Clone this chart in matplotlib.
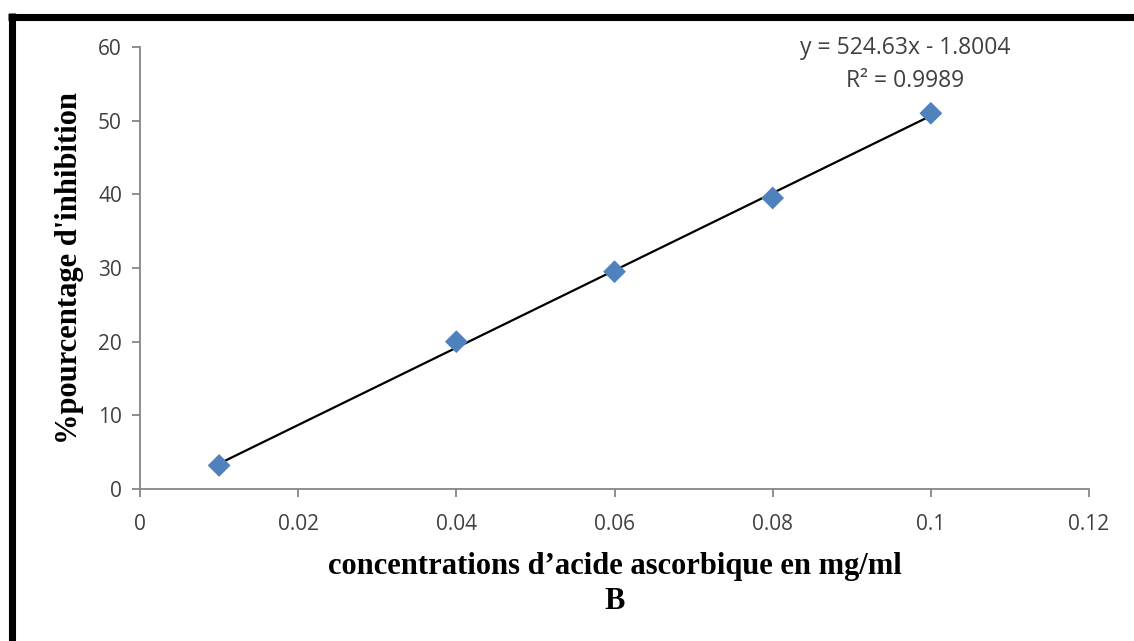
import numpy as np
import matplotlib.pyplot as plt
from matplotlib.lines import Line2D

# concentrations (mg/ml) and % inhibition
conc = [0.01, 0.04, 0.06, 0.08, 0.1]
inhibition = [3.2, 20.0, 29.5, 39.5, 51.0]

slope = 524.63
intercept = -1.8004
r2 = 0.9989

xticks = [0, 0.02, 0.04, 0.06, 0.08, 0.1, 0.12]
xtick_labels = ['0', '0.02', '0.04', '0.06', '0.08', '0.1', '0.12']
yticks = [0, 10, 20, 30, 40, 50, 60]

fig = plt.figure(figsize=(11.34, 6.41), dpi=100)
ax = fig.add_axes([0.1235, 0.2371, 0.8368, 0.6896])

# trendline
xfit = np.array([conc[0], conc[-1]])
ax.plot(xfit, slope * xfit + intercept, color='black', lw=1.6, zorder=2)
ax.scatter(conc, inhibition, marker='D', s=135, color='#4F81BD', zorder=3,
           edgecolors='none')

ax.set_xlim(0, 0.12)
ax.set_ylim(0, 60)
ax.set_xticks(xticks)
ax.set_xticklabels(xtick_labels)
ax.set_yticks(yticks)

for s in ['top', 'right']:
    ax.spines[s].set_visible(False)
for s in ['left', 'bottom']:
    ax.spines[s].set_color('#868686')
    ax.spines[s].set_linewidth(1.3)
ax.tick_params(colors='#868686', width=1.3, length=6, labelcolor='#404040',
               labelsize=15)
ax.tick_params(axis='x', pad=12)
ax.tick_params(axis='y', pad=7)
for lab in ax.get_xticklabels() + ax.get_yticklabels():
    lab.set_family('Open Sans')

ax.set_xlabel("concentrations d\u2019acide ascorbique en mg/ml\nB",
              family='Liberation Serif', fontweight='bold', fontsize=22,
              linespacing=1.3, labelpad=12)
ax.set_ylabel("%pourcentage d'inhibition", family='Liberation Serif',
              fontweight='bold', fontsize=22, labelpad=10)

ax.text(0.0967, 57.6, 'y = 524.63x - 1.8004\nR\u00b2 = 0.9989', ha='center',
        va='center', fontsize=16.5, family='Open Sans', color='#404040',
        linespacing=1.5)

# black frame lines on top and left of the image
fig.add_artist(Line2D([8 / 1134, 1.0], [1 - 16.5 / 641] * 2, color='black',
                      lw=5.1, solid_capstyle='butt',
                      transform=fig.transFigure))
fig.add_artist(Line2D([11.5 / 1134] * 2, [0, 1 - 13 / 641], color='black',
                      lw=5.1, solid_capstyle='butt',
                      transform=fig.transFigure))

fig.savefig('out.png', dpi=100)
